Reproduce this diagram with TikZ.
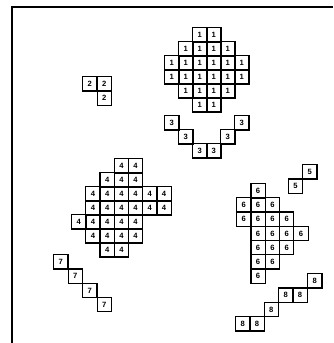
\documentclass[tikz,border=0pt]{standalone}
\usepackage{fontspec}
\setmainfont{Liberation Sans}
\usepackage{tikz}

\tikzset{
  cell/.style={draw,line width=1.1pt,anchor=north west,minimum size=4.29mm,inner sep=0pt,
    font=\fontsize{6.5}{7}\selectfont\bfseries}
}

\begin{document}
\begin{tikzpicture}[x=0.3mm,y=-0.3mm]
\path[use as bounding box] (0,0) rectangle (333,343);
\draw[line width=0.9pt] (12,343) -- (12,7) -- (333,7);
% group 1
\foreach \c/\r in {2/0,3/0, 1/1,2/1,3/1,4/1, 0/2,1/2,2/2,3/2,4/2,5/2, 0/3,1/3,2/3,3/3,4/3,5/3, 1/4,2/4,3/4,4/4, 2/5,3/5}
  \node[cell] (one-\c-\r) at ({164+14*\c},{27+14*\r}) {1};
% group 2
\node[cell] (two-a) at (82,76) {2};
\node[cell] (two-b) at (96.5,76) {2};
\node[cell] (two-c) at (96.5,90.5) {2};
% group 3
\foreach \c/\y in {0/115,1/129,2/143,3/143,4/129,5/115}
  \node[cell] (three-\c) at ({164+14*\c},\y) {3};
% group 4
\foreach \c/\r in {3/0,4/0, 2/1,3/1,4/1, 1/2,2/2,3/2,4/2,5/2,6/2, 1/3,2/3,3/3,4/3,5/3,6/3, 0/4,1/4,2/4,3/4,4/4, 1/5,2/5,3/5,4/5, 2/6,3/6}
  \node[cell] (four-\c-\r) at ({71+14.2*\c},{158+14*\r}) {4};
% group 5
\node[cell] (five-a) at (302,164) {5};
\node[cell] (five-b) at (287.7,178.3) {5};
% group 6
\foreach \c/\r in {1/0, 0/1,1/1,2/1, 0/2,1/2,2/2,3/2, 1/3,2/3,3/3,4/3, 1/4,2/4,3/4, 1/5,2/5, 1/6}
  \node[cell] (six-\c-\r) at ({236+14.3*\c},{183+14.2*\r}) {6};
% group 7
\foreach \k in {0,1,2,3}
  \node[cell] (seven-\k) at ({53+14.5*\k},{254+14.3*\k}) {7};
% group 8
\node[cell] (eight-a) at (307,273) {8};
\node[cell] (eight-b) at (278,287.3) {8};
\node[cell] (eight-c) at (292.3,287.3) {8};
\node[cell] (eight-d) at (263.5,301.6) {8};
\node[cell] (eight-e) at (235,316) {8};
\node[cell] (eight-f) at (249.3,316) {8};
\end{tikzpicture}
\end{document}
